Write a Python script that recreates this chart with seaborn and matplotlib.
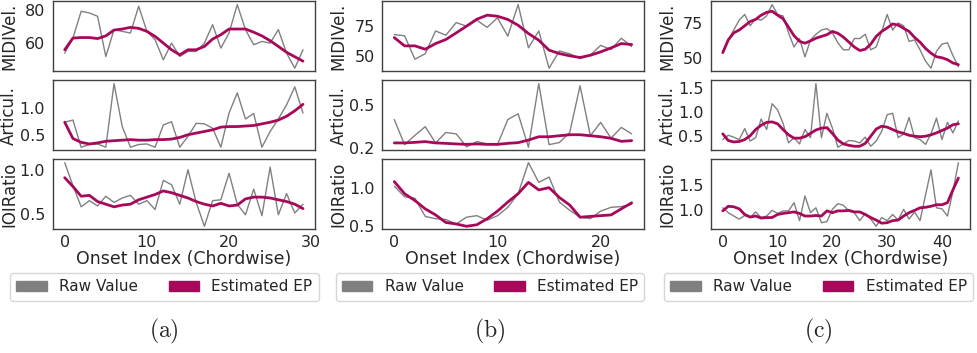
# raw onset values vs. estimated expressive parameters, three pieces side by side

import matplotlib
matplotlib.use("Agg")
import matplotlib.pyplot as plt
from matplotlib.patches import Patch
import numpy as np
import seaborn as sns

# piece (a)
a_vel_raw = [54, 63, 79, 78, 76, 52, 68, 67, 66, 82, 67, 62, 50, 60, 52, 55, 55, 60, 71, 57,
             66, 83, 68, 59, 61, 60, 68, 54, 45, 56]
a_vel_ep = [56, 63, 63.3, 63.3, 62.7, 64.3, 67.8, 68.4, 69.4, 68.8, 67, 64, 60, 56, 53, 56, 56,
            58, 62.4, 65, 68.4, 68.4, 68.4, 66.5, 64.3, 61.4, 58, 54.5, 51.8, 49.2]
a_art_raw = [0.73, 0.77, 0.27, 0.32, 0.33, 0.27, 1.44, 0.65, 0.27, 0.32, 0.33, 0.27, 0.68, 0.74,
             0.27, 0.47, 0.71, 0.70, 0.62, 0.27, 0.90, 1.27, 0.79, 0.89, 0.27, 0.56, 0.79, 1.05,
             1.38, 0.90]
a_art_ep = [0.73, 0.43, 0.36, 0.33, 0.35, 0.38, 0.39, 0.40, 0.41, 0.40, 0.40, 0.41, 0.41, 0.42,
            0.45, 0.50, 0.53, 0.56, 0.59, 0.64, 0.65, 0.65, 0.66, 0.67, 0.70, 0.73, 0.77, 0.84,
            0.94, 1.06]
a_ioi_raw = [1.08, 0.82, 0.58, 0.65, 0.59, 0.70, 0.63, 0.68, 0.71, 0.61, 0.65, 0.55, 0.88, 0.83,
             0.61, 1.00, 0.63, 0.36, 0.65, 0.66, 0.96, 0.61, 0.49, 0.78, 0.48, 1.03, 0.49, 0.73,
             0.51, 0.61]
a_ioi_ep = [0.91, 0.81, 0.70, 0.71, 0.64, 0.61, 0.58, 0.60, 0.61, 0.66, 0.69, 0.72, 0.76, 0.74,
            0.71, 0.68, 0.64, 0.61, 0.59, 0.62, 0.59, 0.60, 0.67, 0.69, 0.69, 0.68, 0.66, 0.64,
            0.61, 0.56]

# piece (b)
b_vel_raw = [68, 67, 47.5, 52, 71, 67.5, 78, 75, 80, 74, 82, 66.7, 93, 57, 71, 40, 54.4, 52, 48,
             51, 59, 55.5, 65, 58]
b_vel_ep = [65.5, 58.6, 58.6, 55.8, 60.5, 63.9, 69.4, 75, 80.8, 84.2, 83.3, 80.6, 75.8, 68.9,
            63.3, 55, 52.2, 50.3, 48.9, 50.8, 53.6, 56.9, 60.5, 59.7]
b_art_raw = [0.40, 0.225, 0.29, 0.35, 0.237, 0.31, 0.30, 0.21, 0.246, 0.23, 0.225, 0.40, 0.44,
             0.207, 0.65, 0.225, 0.24, 0.31, 0.635, 0.287, 0.38, 0.27, 0.345, 0.30]
b_art_ep = [0.237, 0.237, 0.241, 0.246, 0.237, 0.234, 0.23, 0.227, 0.23, 0.227, 0.227, 0.234,
            0.239, 0.257, 0.28, 0.28, 0.287, 0.294, 0.294, 0.287, 0.28, 0.269, 0.248, 0.253]
b_ioi_raw = [1.02, 0.88, 0.86, 0.62, 0.59, 0.58, 0.52, 0.61, 0.63, 0.57, 0.63, 0.74, 0.92, 1.33,
             1.07, 1.14, 0.81, 0.70, 0.61, 0.59, 0.69, 0.74, 0.75, 0.78]
b_ioi_ep = [1.08, 0.92, 0.83, 0.72, 0.64, 0.54, 0.52, 0.49, 0.51, 0.59, 0.69, 0.81, 0.92, 1.07,
            0.97, 1.00, 0.87, 0.77, 0.61, 0.62, 0.63, 0.64, 0.72, 0.80]

# piece (c)
c_vel_raw = [55, 63, 70, 77, 81, 73, 78, 77, 80, 88, 81, 80, 68, 58, 64, 51, 63, 67, 70, 71,
             68, 61, 56, 56, 64, 64, 67, 56, 58, 69, 81, 70, 75, 73, 62, 63, 56, 48, 43, 55,
             60, 61, 52, 44]
c_vel_ep = [54, 63, 68, 70, 73, 76, 77.5, 80.5, 82.5, 83.3, 80.5, 78, 72, 66, 62, 60.7, 62.3,
            64.2, 65.5, 66.7, 69, 67.7, 65, 61.5, 58, 55.5, 56.4, 60, 65.5, 69, 71.5, 74.3, 73.5,
            71.2, 69, 64.8, 61.4, 57, 53.6, 51.1, 50.4, 49, 46.7, 45.5]
c_art_raw = [0.43, 0.52, 0.48, 0.43, 0.66, 0.40, 0.47, 0.86, 0.64, 1.18, 1.05, 0.77, 0.36, 0.47,
             0.34, 0.64, 0.47, 1.60, 0.47, 0.98, 0.67, 0.27, 0.34, 0.41, 0.40, 0.36, 0.48, 0.29,
             0.40, 0.60, 0.95, 0.98, 0.47, 0.55, 0.89, 0.47, 0.43, 0.33, 0.55, 0.88, 0.43, 0.79,
             0.57, 0.82]
c_art_ep = [0.55, 0.41, 0.38, 0.39, 0.43, 0.51, 0.64, 0.73, 0.79, 0.80, 0.76, 0.64, 0.53, 0.46,
            0.46, 0.49, 0.56, 0.63, 0.67, 0.68, 0.56, 0.42, 0.34, 0.31, 0.29, 0.29, 0.35, 0.50,
            0.65, 0.71, 0.69, 0.64, 0.59, 0.56, 0.52, 0.50, 0.49, 0.50, 0.53, 0.57, 0.62, 0.67,
            0.74, 0.76]
c_ioi_raw = [1.05, 0.955, 0.89, 0.83, 0.90, 0.86, 0.97, 0.86, 0.89, 1.00, 0.94, 0.99, 0.99, 1.15,
             0.80, 1.28, 0.955, 1.05, 0.76, 0.78, 1.02, 1.13, 1.10, 0.99, 0.955, 0.80, 0.94, 0.83,
             0.69, 0.86, 0.80, 0.92, 0.81, 1.02, 0.83, 0.97, 0.80, 1.30, 1.79, 1.05, 1.03, 0.89,
             1.37, 1.93]
c_ioi_ep = [0.99, 1.08, 1.07, 1.03, 0.92, 0.87, 0.89, 0.85, 0.86, 0.86, 0.92, 0.94, 0.955, 0.97,
            0.94, 0.89, 0.89, 0.90, 0.89, 0.99, 0.955, 0.99, 0.99, 1.00, 0.97, 0.97, 0.92, 0.86,
            0.81, 0.75, 0.76, 0.80, 0.81, 0.89, 0.955, 1.00, 1.05, 1.06, 1.08, 1.11, 1.11, 1.15,
            1.40, 1.63]

row_labels = ["MIDIVel.", "Articul.", "IOIRatio"]
a_yticks = [[60, 80], [0.5, 1.0], [0.5, 1.0]]
b_yticks = [[50, 75], [0.2, 0.5], [0.5, 1.0]]
c_yticks = [[50, 75], [0.5, 1.0, 1.5], [1.0, 1.5]]
captions = ["(a)", "(b)", "(c)"]

RAW_COLOR = "gray"
EP_COLOR = "#A8085A"

sns.set_style("white")
plt.rcParams["font.family"] = ["DejaVu Sans"]
plt.rcParams["mathtext.fontset"] = "cm"

fig = plt.figure(figsize=(9.78, 3.53), dpi=100)

panels = [
    ([a_vel_raw, a_art_raw, a_ioi_raw], [a_vel_ep, a_art_ep, a_ioi_ep], a_yticks),
    ([b_vel_raw, b_art_raw, b_ioi_raw], [b_vel_ep, b_art_ep, b_ioi_ep], b_yticks),
    ([c_vel_raw, c_art_raw, c_ioi_raw], [c_vel_ep, c_art_ep, c_ioi_ep], c_yticks),
]
lefts = [0.054, 0.391, 0.727]
rights = [0.322, 0.658, 0.992]
centers = [0.168, 0.501, 0.837]

for k, (raws, eps, yticks) in enumerate(panels):
    gs = fig.add_gridspec(3, 1, left=lefts[k], right=rights[k], top=0.996, bottom=0.35,
                          hspace=0.13)
    axes = []
    for r in range(3):
        ax = fig.add_subplot(gs[r], sharex=axes[0] if axes else None)
        x = np.arange(len(raws[r]))
        sns.lineplot(x=x, y=raws[r], ax=ax, color=RAW_COLOR, linewidth=1.0)
        sns.lineplot(x=x, y=eps[r], ax=ax, color=EP_COLOR, linewidth=2.0)
        ax.set_yticks(yticks[r])
        ax.set_ylabel(row_labels[r], fontsize=12, labelpad=1)
        ax.tick_params(labelsize=11.5, pad=2)
        ax.tick_params(axis="x", pad=0.5)
        for s in ax.spines.values():
            s.set_edgecolor("0.25")
            s.set_linewidth(1.0)
        if r < 2:
            ax.tick_params(labelbottom=False)
        axes.append(ax)
    axes[-1].set_xlabel("Onset Index (Chordwise)", fontsize=12.5)
    axes[-1].xaxis.set_label_coords(0.5, -0.29)
    fig.align_ylabels(axes)

    handles = [Patch(color=RAW_COLOR, label="Raw Value"),
               Patch(color=EP_COLOR, label="Estimated EP")]
    fig.legend(handles=handles, loc="center", bbox_to_anchor=(centers[k], 0.187), ncol=2,
               fontsize=11, frameon=True)
    fig.text(centers[k], 0.062, r"$\mathrm{" + captions[k] + "}$", ha="center", va="center",
             fontsize=17)

fig.savefig("out.png", dpi=100)
